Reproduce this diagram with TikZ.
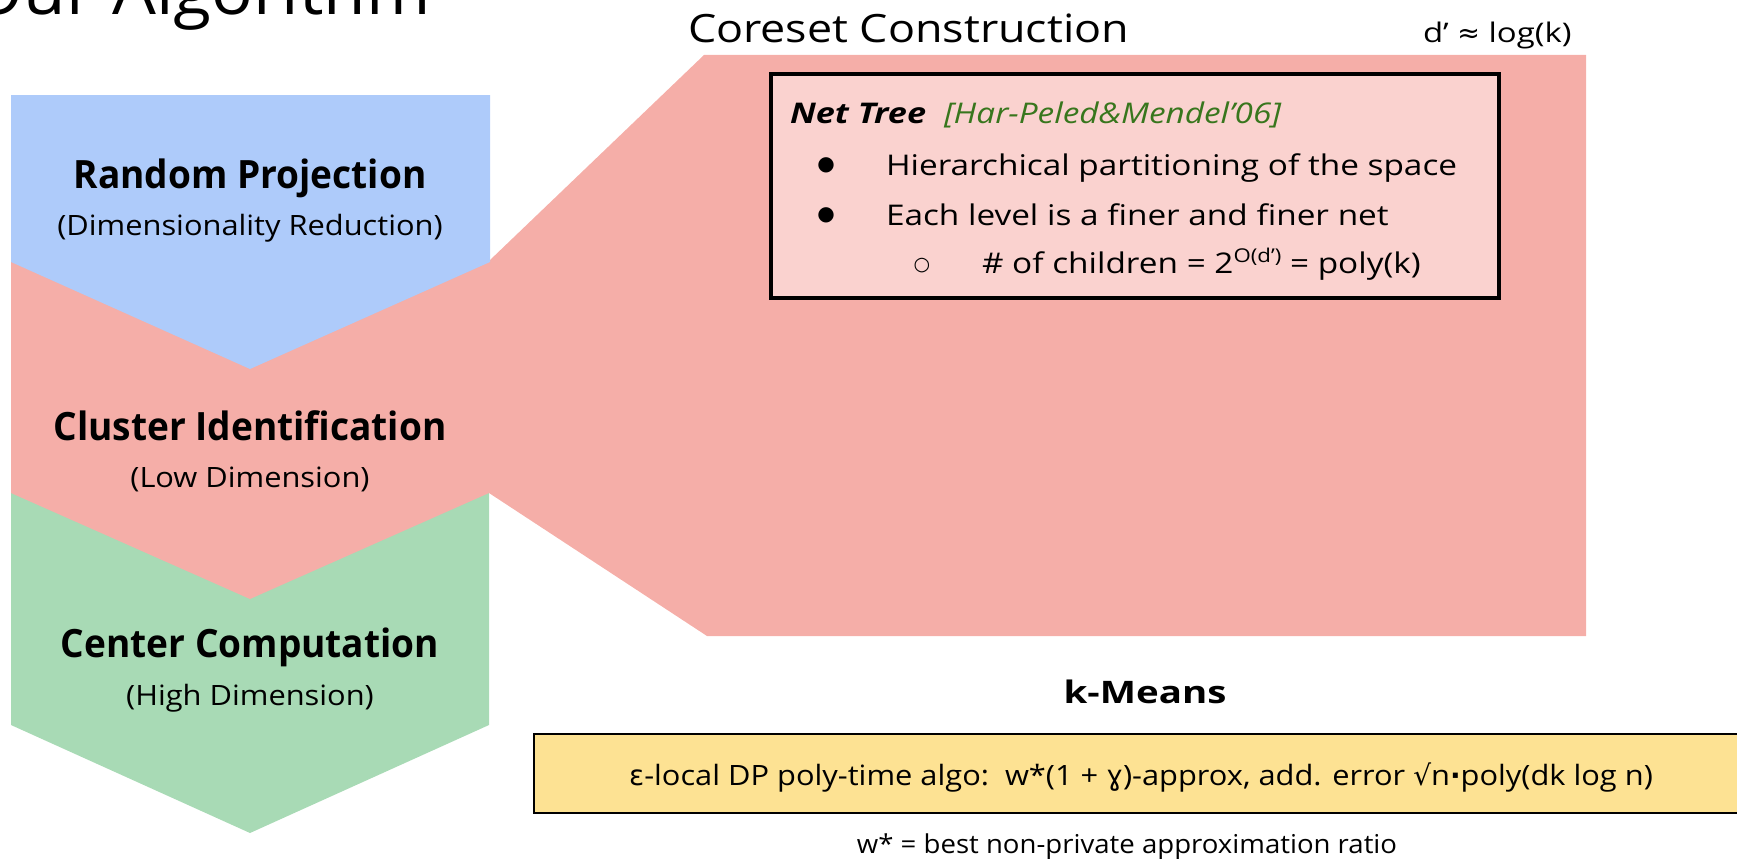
\documentclass[tikz,border=0pt]{standalone}
\usepackage{fontspec}
\setmainfont{Open Sans}
\newfontfamily\symf{DejaVu Sans}
\definecolor{stepblue}{HTML}{AECBFA}
\definecolor{stepred}{HTML}{F5AEA8}
\definecolor{stepgreen}{HTML}{A8DAB5}
\definecolor{netpink}{HTML}{FAD2CF}
\definecolor{resyellow}{HTML}{FDE293}
\definecolor{citegreen}{HTML}{38761D}
% size and horizontal stretch of the current font
\newcommand{\fs}[2]{\fontsize{#1}{#1}\selectfont\addfontfeature{FakeStretch=#2}}
\begin{document}
\begin{tikzpicture}[x=1pt,y=-1pt,
  every node/.style={inner sep=0pt,outer sep=0pt},
  steptitle/.style={anchor=base,font={\bfseries\fs{39}{0.95}}},
  stepsub/.style={anchor=base,font={\fs{28}{1.1}}},
  boxtext/.style={anchor=base west,font={\fs{28.5}{1.17}}},
  bulletmark/.style={anchor=base,font={\symf\fs{20}{1}}}]
\useasboundingbox (0,0) rectangle (1737,859);
\clip (0,0) rectangle (1737,859);

% pipeline chevrons, bottom one first so each point overlaps the next
\fill[stepgreen] (11,493) -- (489,493) -- (489,725) -- (250,833) -- (11,725) -- cycle;
\fill[stepred] (11,262) -- (489,262) -- (489,493) -- (250,599) -- (11,493) -- cycle;
% zoom-out panel of the middle step
\fill[stepred] (489,261) -- (704,55) -- (1586,55) -- (1586,636) -- (707,636) -- (489,493) -- cycle;
\fill[stepblue] (11,95) -- (490,95) -- (490,262) -- (250,369) -- (11,262) -- cycle;

% heading, cut by the top edge
\node (title) [anchor=base east,font={\fs{66}{1.05}}] at (431,15) {Our Algorithm};

% step labels
\node (rp)  [steptitle] at (250,188) {Random Projection};
\node (rps) [stepsub]   at (250,235) {(Dimensionality Reduction)};
\node (ci)  [steptitle] at (250,440) {Cluster Identification};
\node (cis) [stepsub]   at (250,487) {(Low Dimension)};
\node (cc)  [steptitle] at (250,657) {Center Computation};
\node (ccs) [stepsub]   at (250,705) {(High Dimension)};

% coreset panel
\node (core) [anchor=base west,font={\fs{39}{1.15}}] at (688,43) {Coreset Construction};
\node (dim)  [anchor=base west,font={\fs{27}{1.22}}] at (1423,43) {d’ {\symf≈} log(k)};

\node (net) [draw,line width=4pt,fill=netpink,anchor=north west,
  minimum width=727.5pt,minimum height=223pt] at (771,74.5) {};
\node (nt)   [anchor=base west,font={\bfseries\itshape\fs{28.5}{1.2}}] at (790,123) {Net Tree};
\node (cite) [anchor=base west,font={\itshape\fs{28.5}{1.17}},text=citegreen] at (944,123) {[Har-Peled\&Mendel’06]};
\node (b1) [bulletmark] at (826,170) {●};
\node (t1) [boxtext] at (886,175) {Hierarchical partitioning of the space};
\node (b2) [bulletmark] at (826,220) {●};
\node (t2) [boxtext] at (886,225) {Each level is a finer and finer net};
\node (b3) [anchor=base,font={\symf\fs{19}{1}}] at (922,270) {○};
\node (t3) [boxtext] at (982,273) {\# of children = 2\raisebox{11pt}{\fs{19}{1.17}O(d’)} = poly(k)};

% k-means result
\node (km) [anchor=base,font={\bfseries\fs{31}{1.24}}] at (1145,703) {k-Means};
\node (res) [draw,line width=2pt,fill=resyellow,anchor=north west,
  minimum width=1210pt,minimum height=79pt] at (534,734) {};
\node (rest) [anchor=base,font={\fs{28}{1.1}}] at (1141,785)
  {{\symf ε}-local DP poly-time algo:\ \ w*(1 + {\symf ɣ})-approx, add. error {\symf √}n{\symf\bfseries ·}poly(dk log n)};
\node (foot) [anchor=base,font={\fs{26}{1.06}}] at (1127,853) {w* = best non-private approximation ratio};
\end{tikzpicture}
\end{document}
